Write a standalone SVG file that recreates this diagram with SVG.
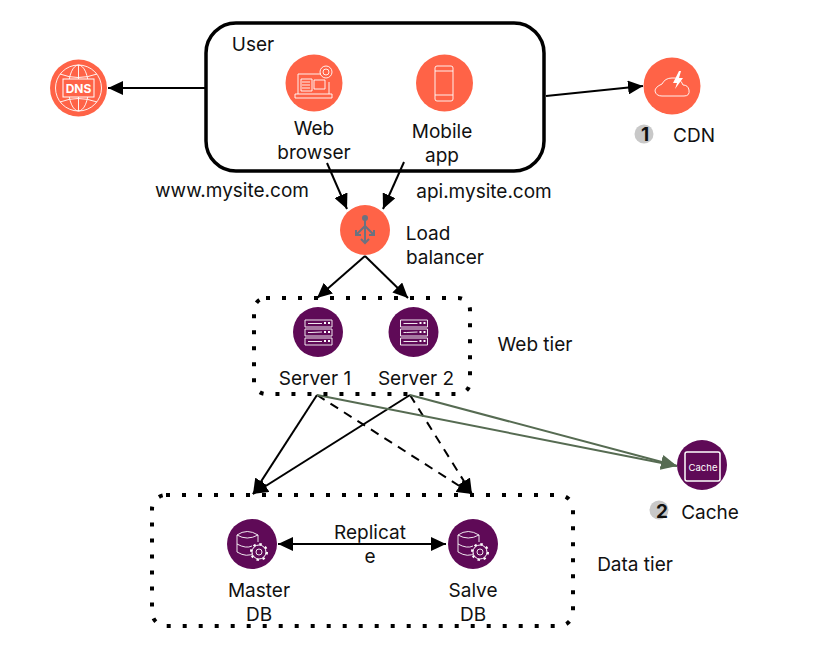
<svg xmlns="http://www.w3.org/2000/svg" width="837" height="652" viewBox="0 0 837 652">
<style>
text{font-family:"Inter","Noto Sans","Liberation Sans",sans-serif;font-size:19px;fill:#111;text-anchor:middle}
.c{stroke:#000;stroke-width:2;fill:none}
.d{stroke-dasharray:9 7}
.g{stroke:#566b52;stroke-width:2;fill:none}
.o{fill:#ff6347}
.p{fill:#5f0a57}
.i{fill:none;stroke:#fff;stroke-width:1;opacity:.9}
.b{fill:none;stroke:#000;stroke-width:4;stroke-dasharray:4 12}
.n{fill:#c8c8c8}
.k{font-weight:700}
.w{fill:#fff}
</style>
<defs>
<marker id="a" markerUnits="userSpaceOnUse" markerWidth="15" markerHeight="14" refX="15" refY="7" orient="auto"><path d="M0 0L15 7L0 14z" fill="#000"/></marker>
<marker id="s" markerUnits="userSpaceOnUse" markerWidth="15" markerHeight="14" refX="0" refY="7" orient="auto"><path d="M15 0L0 7L15 14z" fill="#000"/></marker>
<marker id="ag" markerUnits="userSpaceOnUse" markerWidth="16" markerHeight="14" refX="16" refY="7" orient="auto"><path d="M0 0L16 7L0 14z" fill="#566b52"/></marker>
<g id="srv"><path class="i" d="M-13 -12H14V-5H-13zM-13 -3H14V4H-13zM-13 6H14V13H-13zM-10 -8.5H4M-10 0.5H-7L4 0M-10 9.5H4"/><path class="w" d="M6-10h2v2h-2zM10-10h2v2h-2zM6-1h2v2h-2zM10-1h2v2h-2zM6 8h2v2h-2zM10 8h2v2h-2z"/></g>
<g id="db"><path class="i" d="M-15 -9V8Q-5 14 2 9M-15 -9Q-5 -16 6 -9Q-5 -3 -15 -9M6 -9V-2M-15 0Q-6 5 0 2"/><circle cx="7" cy="8" r="7" fill="#5f0a57" stroke="#fff"/><circle cx="7" cy="8" r="8" fill="none" stroke="#fff" stroke-width="2" stroke-dasharray="2.5 3.8"/><circle class="i" cx="7" cy="8" r="3"/></g>
</defs>
<g id="connectors">
<path class="c" d="M206 88H108" marker-end="url(#a)"/>
<path class="c" d="M546 96L643 86" marker-end="url(#a)"/>
<path class="c" d="M327 163L347 209" marker-end="url(#a)"/>
<path class="c" d="M404 162L383 209" marker-end="url(#a)"/>
<path class="c" d="M365 256L317 298" marker-end="url(#a)"/>
<path class="c" d="M365 256L408 298" marker-end="url(#a)"/>
<path class="c" d="M317 395L253 494" marker-end="url(#a)"/>
<path class="c" d="M410 395L253 494" marker-end="url(#a)"/>
<path class="c d" d="M317 395L472 494" marker-end="url(#a)"/>
<path class="c d" d="M410 395L472 494" marker-end="url(#a)"/>
<path class="g" d="M317 395L677 466" marker-end="url(#ag)"/>
<path class="g" d="M410 395L677 466" marker-end="url(#ag)"/>
<path class="c" d="M278 544H446" marker-start="url(#s)" marker-end="url(#a)"/>
</g>
<g id="user-box"><rect x="206" y="23" width="338" height="148" rx="30" fill="none" stroke="#000" stroke-width="3.5"/><text x="253" y="51">User</text></g>
<g id="dns"><circle class="o" cx="78.5" cy="88" r="28.5"/>
<circle class="i" cx="78.5" cy="88" r="23"/><ellipse class="i" cx="78.5" cy="88" rx="10" ry="23"/><path class="i" d="M78.5 65V111M60 74Q78 81 97 74M60 102Q78 95 97 102"/>
<rect x="63" y="79" width="31" height="18" fill="#ff6347" stroke="#fff"/><text x="78.5" y="93" style="font-size:12px;font-weight:700;fill:#fff">DNS</text></g>
<g id="web-browser"><circle class="o" cx="314" cy="83" r="28.5"/>
<path class="i" d="M298 94V74H321M329 82V94M295 94H332V98H295zM301 79H312V91H301zM302 82H310M302 85H310M302 88H310M314 80H325V89H314z"/><circle class="i" cx="326" cy="72" r="6"/><circle class="i" cx="326" cy="72" r="3"/>
<text x="314" y="135">Web</text><text x="314" y="159">browser</text></g>
<g id="mobile-app"><circle class="o" cx="444.5" cy="83" r="28.5"/>
<rect class="i" x="435" y="66" width="18" height="35" rx="2"/><path class="i" d="M435 71H453M435 95H453"/>
<text x="442" y="138">Mobile</text><text x="442" y="162">app</text></g>
<g id="cdn"><circle class="o" cx="672" cy="86" r="28.5"/>
<path class="i" d="M662 96H684Q690 96 689 90Q688 85 683 85Q680 77 672 78Q665 78 662 84Q655 87 655 91Q656 96 662 96z"/><path d="M679 71L673 83H677L675 89L683 78H679L681 71z" fill="#fff"/>
<circle class="n" cx="644" cy="134" r="9.5"/><text class="k" x="645" y="141">1</text><text x="694" y="142">CDN</text></g>
<text x="232" y="197">www.mysite.com</text>
<text x="484" y="198">api.mysite.com</text>
<g id="load-balancer"><circle class="o" cx="365" cy="230" r="25"/>
<g fill="none" stroke="#6b7280" stroke-width="2"><path d="M365 218V243M365 226L356 235M365 226L374 235M361 239L365 243L369 239M356 230V235H361M374 230V235H369"/><circle cx="365" cy="218" r="2" fill="#6b7280"/></g>
<text x="428" y="240">Load</text><text x="445" y="264">balancer</text></g>
<g id="web-tier"><rect class="b" x="254" y="298" width="216" height="96" rx="12"/><text x="535" y="351">Web tier</text></g>
<g id="server-1"><circle class="p" cx="318" cy="332" r="25"/><use href="#srv" x="318" y="332"/><text x="315" y="385">Server 1</text></g>
<g id="server-2"><circle class="p" cx="413.5" cy="332" r="25"/><use href="#srv" x="413.5" y="332"/><text x="416" y="385">Server 2</text></g>
<g id="data-tier"><rect class="b" x="152" y="495" width="421" height="131" rx="14"/><text x="635" y="571">Data tier</text></g>
<g id="master-db"><circle class="p" cx="252" cy="544" r="25"/><use href="#db" x="252" y="544"/><text x="259" y="597">Master</text><text x="259" y="621">DB</text></g>
<g id="slave-db"><circle class="p" cx="473" cy="544" r="25"/><use href="#db" x="473" y="544"/><text x="473" y="597">Salve</text><text x="473" y="621">DB</text></g>
<g id="replicate"><text x="370" y="539">Replicat</text><text x="370" y="563">e</text></g>
<g id="cache"><circle class="p" cx="702" cy="465" r="25"/><rect x="685" y="452" width="35" height="29" rx="2" fill="none" stroke="#fff" stroke-width="1.5"/><text x="703" y="471" style="font-size:9.5px;fill:#fff">Cache</text>
<circle class="n" cx="659" cy="510" r="9.5"/><text class="k" x="662" y="518">2</text><text x="710" y="519">Cache</text></g>
</svg>
